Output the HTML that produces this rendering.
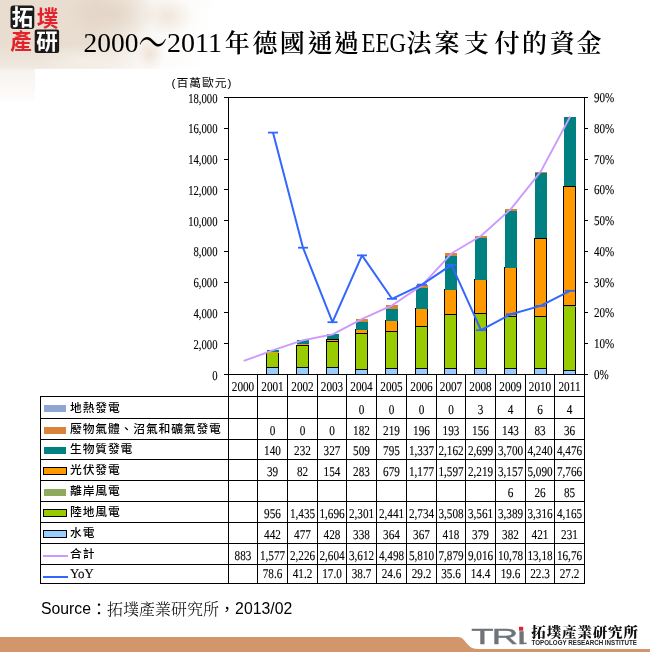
<!DOCTYPE html>
<html lang="zh-Hant"><head><meta charset="utf-8"><title>2000～2011年德國通過EEG法案支付的資金</title>
<style>
html,body{margin:0;padding:0;background:#fff}
body{width:650px;height:652px;position:relative;overflow:hidden}
#bg{position:absolute;left:0;top:0;width:330px;height:120px;
background:
radial-gradient(ellipse 14px 18px at 150px 55px, rgba(232,214,198,.75), rgba(232,214,198,0) 100%),
radial-gradient(ellipse 26px 20px at 168px 16px, rgba(236,224,212,.75), rgba(236,224,212,0) 100%),
radial-gradient(ellipse 45px 26px at 112px 14px, rgba(222,204,187,.6), rgba(222,204,187,0) 100%),
radial-gradient(ellipse 45px 16px at 85px 60px, rgba(244,238,230,.7), rgba(244,238,230,0) 100%),
linear-gradient(100deg,#e8ddcf 0,#e8ddd0 95px,rgba(236,227,216,.8) 128px,rgba(243,236,228,.35) 158px,rgba(255,255,255,0) 215px);
-webkit-mask-image:linear-gradient(to bottom,#000 0,#000 44px,rgba(0,0,0,.72) 62px,rgba(0,0,0,.68) 67px,rgba(0,0,0,.34) 71px,rgba(0,0,0,.22) 85px,rgba(0,0,0,0) 104px);
mask-image:linear-gradient(to bottom,#000 0,#000 44px,rgba(0,0,0,.72) 62px,rgba(0,0,0,.68) 67px,rgba(0,0,0,.34) 71px,rgba(0,0,0,.22) 85px,rgba(0,0,0,0) 104px);}
#white{position:absolute;left:35px;top:69px;width:610px;height:526px;background:#fff}
</style></head><body>
<div id="bg"></div>
<div id="white"></div>
<svg width="650" height="652" viewBox="0 0 650 652" style="position:absolute;left:0;top:0">
<g shape-rendering="crispEdges" stroke="#000" stroke-width="1" fill="none">
<line x1="224" y1="97.5" x2="585.0" y2="97.5"/>
<line x1="228.5" y1="97.0" x2="228.5" y2="584.0"/>
<line x1="584.5" y1="97.0" x2="584.5" y2="584.0"/>
<line x1="224" y1="374.5" x2="228.5" y2="374.5"/>
<line x1="584.5" y1="374.5" x2="588" y2="374.5"/>
<line x1="224" y1="343.5" x2="228.5" y2="343.5"/>
<line x1="584.5" y1="343.5" x2="588" y2="343.5"/>
<line x1="224" y1="312.5" x2="228.5" y2="312.5"/>
<line x1="584.5" y1="312.5" x2="588" y2="312.5"/>
<line x1="224" y1="282.5" x2="228.5" y2="282.5"/>
<line x1="584.5" y1="282.5" x2="588" y2="282.5"/>
<line x1="224" y1="251.5" x2="228.5" y2="251.5"/>
<line x1="584.5" y1="251.5" x2="588" y2="251.5"/>
<line x1="224" y1="220.5" x2="228.5" y2="220.5"/>
<line x1="584.5" y1="220.5" x2="588" y2="220.5"/>
<line x1="224" y1="189.5" x2="228.5" y2="189.5"/>
<line x1="584.5" y1="189.5" x2="588" y2="189.5"/>
<line x1="224" y1="159.5" x2="228.5" y2="159.5"/>
<line x1="584.5" y1="159.5" x2="588" y2="159.5"/>
<line x1="224" y1="128.5" x2="228.5" y2="128.5"/>
<line x1="584.5" y1="128.5" x2="588" y2="128.5"/>
<line x1="224" y1="97.5" x2="228.5" y2="97.5"/>
<line x1="584.5" y1="97.5" x2="588" y2="97.5"/>
<line x1="224" y1="374.5" x2="588" y2="374.5"/>
<line x1="40" y1="396.5" x2="585.0" y2="396.5"/>
<line x1="40" y1="418.5" x2="585.0" y2="418.5"/>
<line x1="40" y1="439.5" x2="585.0" y2="439.5"/>
<line x1="40" y1="459.5" x2="585.0" y2="459.5"/>
<line x1="40" y1="480.5" x2="585.0" y2="480.5"/>
<line x1="40" y1="501.5" x2="585.0" y2="501.5"/>
<line x1="40" y1="522.5" x2="585.0" y2="522.5"/>
<line x1="40" y1="543.5" x2="585.0" y2="543.5"/>
<line x1="40" y1="564.5" x2="585.0" y2="564.5"/>
<line x1="40" y1="583.5" x2="585.0" y2="583.5"/>
<line x1="40.5" y1="396.5" x2="40.5" y2="584.0"/>
<line x1="257.5" y1="374.5" x2="257.5" y2="584.0"/>
<line x1="287.5" y1="374.5" x2="287.5" y2="584.0"/>
<line x1="317.5" y1="374.5" x2="317.5" y2="584.0"/>
<line x1="346.5" y1="374.5" x2="346.5" y2="584.0"/>
<line x1="376.5" y1="374.5" x2="376.5" y2="584.0"/>
<line x1="406.5" y1="374.5" x2="406.5" y2="584.0"/>
<line x1="436.5" y1="374.5" x2="436.5" y2="584.0"/>
<line x1="465.5" y1="374.5" x2="465.5" y2="584.0"/>
<line x1="495.5" y1="374.5" x2="495.5" y2="584.0"/>
<line x1="525.5" y1="374.5" x2="525.5" y2="584.0"/>
<line x1="554.5" y1="374.5" x2="554.5" y2="584.0"/>
</g>
<g shape-rendering="crispEdges">
<rect x="266.5" y="367.5" width="12" height="7.0" fill="#99ccff" stroke="#000" stroke-width="1"/>
<rect x="266.5" y="352.5" width="12" height="15.0" fill="#99cc00" stroke="#000" stroke-width="1"/>
<rect x="267" y="352.39" width="12" height="0.60" fill="#ff9900"/>
<rect x="267" y="350.23" width="12" height="2.15" fill="#008080"/>
<rect x="296.5" y="367.5" width="12" height="7.0" fill="#99ccff" stroke="#000" stroke-width="1"/>
<rect x="296.5" y="345.5" width="12" height="22.0" fill="#99cc00" stroke="#000" stroke-width="1"/>
<rect x="297" y="343.81" width="12" height="1.26" fill="#ff9900"/>
<rect x="297" y="340.24" width="12" height="3.57" fill="#008080"/>
<rect x="326.5" y="367.5" width="12" height="7.0" fill="#99ccff" stroke="#000" stroke-width="1"/>
<rect x="326.5" y="341.5" width="12" height="26.0" fill="#99cc00" stroke="#000" stroke-width="1"/>
<rect x="326.5" y="339.5" width="12" height="2.0" fill="#ff9900" stroke="#000" stroke-width="1"/>
<rect x="327" y="334.41" width="12" height="5.03" fill="#008080"/>
<rect x="355.5" y="369.5" width="12" height="5.0" fill="#99ccff" stroke="#000" stroke-width="1"/>
<rect x="355.5" y="333.5" width="12" height="36.0" fill="#99cc00" stroke="#000" stroke-width="1"/>
<rect x="355.5" y="329.5" width="12" height="4.0" fill="#ff9900" stroke="#000" stroke-width="1"/>
<rect x="356" y="321.70" width="12" height="7.83" fill="#008080"/>
<rect x="356" y="318.90" width="12" height="2.80" fill="#d9823a"/>
<rect x="385.5" y="368.5" width="12" height="6.0" fill="#99ccff" stroke="#000" stroke-width="1"/>
<rect x="385.5" y="331.5" width="12" height="37.0" fill="#99cc00" stroke="#000" stroke-width="1"/>
<rect x="385.5" y="320.5" width="12" height="11.0" fill="#ff9900" stroke="#000" stroke-width="1"/>
<rect x="386" y="308.65" width="12" height="12.23" fill="#008080"/>
<rect x="386" y="305.28" width="12" height="3.37" fill="#d9823a"/>
<rect x="415.5" y="368.5" width="12" height="6.0" fill="#99ccff" stroke="#000" stroke-width="1"/>
<rect x="415.5" y="326.5" width="12" height="42.0" fill="#99cc00" stroke="#000" stroke-width="1"/>
<rect x="415.5" y="308.5" width="12" height="18.0" fill="#ff9900" stroke="#000" stroke-width="1"/>
<rect x="416" y="288.09" width="12" height="20.57" fill="#008080"/>
<rect x="416" y="285.08" width="12" height="3.02" fill="#d9823a"/>
<rect x="444.5" y="368.5" width="12" height="6.0" fill="#99ccff" stroke="#000" stroke-width="1"/>
<rect x="444.5" y="314.5" width="12" height="54.0" fill="#99cc00" stroke="#000" stroke-width="1"/>
<rect x="444.5" y="289.5" width="12" height="25.0" fill="#ff9900" stroke="#000" stroke-width="1"/>
<rect x="445" y="256.24" width="12" height="33.27" fill="#008080"/>
<rect x="445" y="253.27" width="12" height="2.97" fill="#d9823a"/>
<rect x="474.5" y="368.5" width="12" height="6.0" fill="#99ccff" stroke="#000" stroke-width="1"/>
<rect x="474.5" y="313.5" width="12" height="55.0" fill="#99cc00" stroke="#000" stroke-width="1"/>
<rect x="474.5" y="279.5" width="12" height="34.0" fill="#ff9900" stroke="#000" stroke-width="1"/>
<rect x="475" y="238.19" width="12" height="41.53" fill="#008080"/>
<rect x="475" y="235.78" width="12" height="2.40" fill="#d9823a"/>
<rect x="475" y="235.74" width="12" height="0.05" fill="#90a6d2"/>
<rect x="504.5" y="368.5" width="12" height="6.0" fill="#99ccff" stroke="#000" stroke-width="1"/>
<rect x="504.5" y="316.5" width="12" height="52.0" fill="#99cc00" stroke="#000" stroke-width="1"/>
<rect x="505" y="316.38" width="12" height="0.09" fill="#8faa5c"/>
<rect x="504.5" y="267.5" width="12" height="49.0" fill="#ff9900" stroke="#000" stroke-width="1"/>
<rect x="505" y="210.85" width="12" height="56.94" fill="#008080"/>
<rect x="505" y="208.65" width="12" height="2.20" fill="#d9823a"/>
<rect x="505" y="208.59" width="12" height="0.06" fill="#90a6d2"/>
<rect x="534.5" y="368.5" width="12" height="6.0" fill="#99ccff" stroke="#000" stroke-width="1"/>
<rect x="534.5" y="316.5" width="12" height="52.0" fill="#99cc00" stroke="#000" stroke-width="1"/>
<rect x="535" y="316.59" width="12" height="0.40" fill="#8faa5c"/>
<rect x="534.5" y="238.5" width="12" height="78.0" fill="#ff9900" stroke="#000" stroke-width="1"/>
<rect x="535" y="173.01" width="12" height="65.25" fill="#008080"/>
<rect x="535" y="171.74" width="12" height="1.28" fill="#d9823a"/>
<rect x="535" y="171.64" width="12" height="0.09" fill="#90a6d2"/>
<rect x="563.5" y="370.5" width="12" height="4.0" fill="#99ccff" stroke="#000" stroke-width="1"/>
<rect x="563.5" y="306.5" width="12" height="64.0" fill="#99cc00" stroke="#000" stroke-width="1"/>
<rect x="564" y="305.54" width="12" height="1.31" fill="#8faa5c"/>
<rect x="563.5" y="186.5" width="12" height="119.0" fill="#ff9900" stroke="#000" stroke-width="1"/>
<rect x="564" y="117.15" width="12" height="68.88" fill="#008080"/>
<rect x="564" y="116.60" width="12" height="0.55" fill="#d9823a"/>
<rect x="564" y="116.54" width="12" height="0.06" fill="#90a6d2"/>
</g>
<polyline points="243.7,360.9 273.2,350.2 303.2,340.2 332.7,334.4 362.2,318.9 392.2,305.3 422.2,285.1 451.7,253.3 481.2,235.8 511.2,208.6 540.7,171.6 570.2,116.5" fill="none" stroke="#cc99ff" stroke-width="1.9" stroke-linejoin="round"/>
<polyline points="273.0,132.6 303.0,247.7 332.5,322.2 362.0,255.4 392.0,298.8 422.0,284.6 451.5,264.9 481.0,330.2 511.0,314.2 540.5,305.9 570.0,290.8" fill="none" stroke="#3366ff" stroke-width="2.0" stroke-linejoin="round"/>
<line x1="268.0" y1="132.6" x2="278.0" y2="132.6" stroke="#3366ff" stroke-width="1.8"/>
<line x1="298.0" y1="247.7" x2="308.0" y2="247.7" stroke="#3366ff" stroke-width="1.8"/>
<line x1="327.5" y1="322.2" x2="337.5" y2="322.2" stroke="#3366ff" stroke-width="1.8"/>
<line x1="357.0" y1="255.4" x2="367.0" y2="255.4" stroke="#3366ff" stroke-width="1.8"/>
<line x1="387.0" y1="298.8" x2="397.0" y2="298.8" stroke="#3366ff" stroke-width="1.8"/>
<line x1="417.0" y1="284.6" x2="427.0" y2="284.6" stroke="#3366ff" stroke-width="1.8"/>
<line x1="446.5" y1="264.9" x2="456.5" y2="264.9" stroke="#3366ff" stroke-width="1.8"/>
<line x1="476.0" y1="330.2" x2="486.0" y2="330.2" stroke="#3366ff" stroke-width="1.8"/>
<line x1="506.0" y1="314.2" x2="516.0" y2="314.2" stroke="#3366ff" stroke-width="1.8"/>
<line x1="535.5" y1="305.9" x2="545.5" y2="305.9" stroke="#3366ff" stroke-width="1.8"/>
<line x1="565.0" y1="290.8" x2="575.0" y2="290.8" stroke="#3366ff" stroke-width="1.8"/>
<g font-family="'Liberation Serif',serif" fill="#000" stroke="#000" stroke-width="0.12" text-rendering="geometricPrecision">
<text transform="translate(217.5,379.5) scale(0.79,1)" text-anchor="end" font-size="13.5">0</text>
<text transform="translate(594.0,378.9) scale(0.82,1)" text-anchor="start" font-size="13.5">0%</text>
<text transform="translate(217.5,348.7) scale(0.79,1)" text-anchor="end" font-size="13.5">2,000</text>
<text transform="translate(594.0,348.1) scale(0.82,1)" text-anchor="start" font-size="13.5">10%</text>
<text transform="translate(217.5,317.9) scale(0.79,1)" text-anchor="end" font-size="13.5">4,000</text>
<text transform="translate(594.0,317.3) scale(0.82,1)" text-anchor="start" font-size="13.5">20%</text>
<text transform="translate(217.5,287.2) scale(0.79,1)" text-anchor="end" font-size="13.5">6,000</text>
<text transform="translate(594.0,286.6) scale(0.82,1)" text-anchor="start" font-size="13.5">30%</text>
<text transform="translate(217.5,256.4) scale(0.79,1)" text-anchor="end" font-size="13.5">8,000</text>
<text transform="translate(594.0,255.8) scale(0.82,1)" text-anchor="start" font-size="13.5">40%</text>
<text transform="translate(217.5,225.6) scale(0.79,1)" text-anchor="end" font-size="13.5">10,000</text>
<text transform="translate(594.0,225.0) scale(0.82,1)" text-anchor="start" font-size="13.5">50%</text>
<text transform="translate(217.5,194.8) scale(0.79,1)" text-anchor="end" font-size="13.5">12,000</text>
<text transform="translate(594.0,194.2) scale(0.82,1)" text-anchor="start" font-size="13.5">60%</text>
<text transform="translate(217.5,164.1) scale(0.79,1)" text-anchor="end" font-size="13.5">14,000</text>
<text transform="translate(594.0,163.5) scale(0.82,1)" text-anchor="start" font-size="13.5">70%</text>
<text transform="translate(217.5,133.3) scale(0.79,1)" text-anchor="end" font-size="13.5">16,000</text>
<text transform="translate(594.0,132.7) scale(0.82,1)" text-anchor="start" font-size="13.5">80%</text>
<text transform="translate(217.5,102.5) scale(0.79,1)" text-anchor="end" font-size="13.5">18,000</text>
<text transform="translate(594.0,101.9) scale(0.82,1)" text-anchor="start" font-size="13.5">90%</text>
<text transform="translate(243.0,390.5) scale(0.83,1)" text-anchor="middle" font-size="13.5">2000</text>
<text transform="translate(272.5,390.5) scale(0.83,1)" text-anchor="middle" font-size="13.5">2001</text>
<text transform="translate(302.5,390.5) scale(0.83,1)" text-anchor="middle" font-size="13.5">2002</text>
<text transform="translate(332.0,390.5) scale(0.83,1)" text-anchor="middle" font-size="13.5">2003</text>
<text transform="translate(361.5,390.5) scale(0.83,1)" text-anchor="middle" font-size="13.5">2004</text>
<text transform="translate(391.5,390.5) scale(0.83,1)" text-anchor="middle" font-size="13.5">2005</text>
<text transform="translate(421.5,390.5) scale(0.83,1)" text-anchor="middle" font-size="13.5">2006</text>
<text transform="translate(451.0,390.5) scale(0.83,1)" text-anchor="middle" font-size="13.5">2007</text>
<text transform="translate(480.5,390.5) scale(0.83,1)" text-anchor="middle" font-size="13.5">2008</text>
<text transform="translate(510.5,390.5) scale(0.83,1)" text-anchor="middle" font-size="13.5">2009</text>
<text transform="translate(540.0,390.5) scale(0.83,1)" text-anchor="middle" font-size="13.5">2010</text>
<text transform="translate(569.5,390.5) scale(0.83,1)" text-anchor="middle" font-size="13.5">2011</text>
<text transform="translate(361.5,413.5) scale(0.83,1)" text-anchor="middle" font-size="13.5">0</text>
<text transform="translate(391.5,413.5) scale(0.83,1)" text-anchor="middle" font-size="13.5">0</text>
<text transform="translate(421.5,413.5) scale(0.83,1)" text-anchor="middle" font-size="13.5">0</text>
<text transform="translate(451.0,413.5) scale(0.83,1)" text-anchor="middle" font-size="13.5">0</text>
<text transform="translate(480.5,413.5) scale(0.83,1)" text-anchor="middle" font-size="13.5">3</text>
<text transform="translate(510.5,413.5) scale(0.83,1)" text-anchor="middle" font-size="13.5">4</text>
<text transform="translate(540.0,413.5) scale(0.83,1)" text-anchor="middle" font-size="13.5">6</text>
<text transform="translate(569.5,413.5) scale(0.83,1)" text-anchor="middle" font-size="13.5">4</text>
<text transform="translate(272.5,434.5) scale(0.83,1)" text-anchor="middle" font-size="13.5">0</text>
<text transform="translate(302.5,434.5) scale(0.83,1)" text-anchor="middle" font-size="13.5">0</text>
<text transform="translate(332.0,434.5) scale(0.83,1)" text-anchor="middle" font-size="13.5">0</text>
<text transform="translate(361.5,434.5) scale(0.83,1)" text-anchor="middle" font-size="13.5">182</text>
<text transform="translate(391.5,434.5) scale(0.83,1)" text-anchor="middle" font-size="13.5">219</text>
<text transform="translate(421.5,434.5) scale(0.83,1)" text-anchor="middle" font-size="13.5">196</text>
<text transform="translate(451.0,434.5) scale(0.83,1)" text-anchor="middle" font-size="13.5">193</text>
<text transform="translate(480.5,434.5) scale(0.83,1)" text-anchor="middle" font-size="13.5">156</text>
<text transform="translate(510.5,434.5) scale(0.83,1)" text-anchor="middle" font-size="13.5">143</text>
<text transform="translate(540.0,434.5) scale(0.83,1)" text-anchor="middle" font-size="13.5">83</text>
<text transform="translate(569.5,434.5) scale(0.83,1)" text-anchor="middle" font-size="13.5">36</text>
<text transform="translate(272.5,454.5) scale(0.83,1)" text-anchor="middle" font-size="13.5">140</text>
<text transform="translate(302.5,454.5) scale(0.83,1)" text-anchor="middle" font-size="13.5">232</text>
<text transform="translate(332.0,454.5) scale(0.83,1)" text-anchor="middle" font-size="13.5">327</text>
<text transform="translate(361.5,454.5) scale(0.83,1)" text-anchor="middle" font-size="13.5">509</text>
<text transform="translate(391.5,454.5) scale(0.83,1)" text-anchor="middle" font-size="13.5">795</text>
<text transform="translate(421.5,454.5) scale(0.83,1)" text-anchor="middle" font-size="13.5">1,337</text>
<text transform="translate(451.0,454.5) scale(0.83,1)" text-anchor="middle" font-size="13.5">2,162</text>
<text transform="translate(480.5,454.5) scale(0.83,1)" text-anchor="middle" font-size="13.5">2,699</text>
<text transform="translate(510.5,454.5) scale(0.83,1)" text-anchor="middle" font-size="13.5">3,700</text>
<text transform="translate(540.0,454.5) scale(0.83,1)" text-anchor="middle" font-size="13.5">4,240</text>
<text transform="translate(569.5,454.5) scale(0.83,1)" text-anchor="middle" font-size="13.5">4,476</text>
<text transform="translate(272.5,475.5) scale(0.83,1)" text-anchor="middle" font-size="13.5">39</text>
<text transform="translate(302.5,475.5) scale(0.83,1)" text-anchor="middle" font-size="13.5">82</text>
<text transform="translate(332.0,475.5) scale(0.83,1)" text-anchor="middle" font-size="13.5">154</text>
<text transform="translate(361.5,475.5) scale(0.83,1)" text-anchor="middle" font-size="13.5">283</text>
<text transform="translate(391.5,475.5) scale(0.83,1)" text-anchor="middle" font-size="13.5">679</text>
<text transform="translate(421.5,475.5) scale(0.83,1)" text-anchor="middle" font-size="13.5">1,177</text>
<text transform="translate(451.0,475.5) scale(0.83,1)" text-anchor="middle" font-size="13.5">1,597</text>
<text transform="translate(480.5,475.5) scale(0.83,1)" text-anchor="middle" font-size="13.5">2,219</text>
<text transform="translate(510.5,475.5) scale(0.83,1)" text-anchor="middle" font-size="13.5">3,157</text>
<text transform="translate(540.0,475.5) scale(0.83,1)" text-anchor="middle" font-size="13.5">5,090</text>
<text transform="translate(569.5,475.5) scale(0.83,1)" text-anchor="middle" font-size="13.5">7,766</text>
<text transform="translate(510.5,496.5) scale(0.83,1)" text-anchor="middle" font-size="13.5">6</text>
<text transform="translate(540.0,496.5) scale(0.83,1)" text-anchor="middle" font-size="13.5">26</text>
<text transform="translate(569.5,496.5) scale(0.83,1)" text-anchor="middle" font-size="13.5">85</text>
<text transform="translate(272.5,517.5) scale(0.83,1)" text-anchor="middle" font-size="13.5">956</text>
<text transform="translate(302.5,517.5) scale(0.83,1)" text-anchor="middle" font-size="13.5">1,435</text>
<text transform="translate(332.0,517.5) scale(0.83,1)" text-anchor="middle" font-size="13.5">1,696</text>
<text transform="translate(361.5,517.5) scale(0.83,1)" text-anchor="middle" font-size="13.5">2,301</text>
<text transform="translate(391.5,517.5) scale(0.83,1)" text-anchor="middle" font-size="13.5">2,441</text>
<text transform="translate(421.5,517.5) scale(0.83,1)" text-anchor="middle" font-size="13.5">2,734</text>
<text transform="translate(451.0,517.5) scale(0.83,1)" text-anchor="middle" font-size="13.5">3,508</text>
<text transform="translate(480.5,517.5) scale(0.83,1)" text-anchor="middle" font-size="13.5">3,561</text>
<text transform="translate(510.5,517.5) scale(0.83,1)" text-anchor="middle" font-size="13.5">3,389</text>
<text transform="translate(540.0,517.5) scale(0.83,1)" text-anchor="middle" font-size="13.5">3,316</text>
<text transform="translate(569.5,517.5) scale(0.83,1)" text-anchor="middle" font-size="13.5">4,165</text>
<text transform="translate(272.5,538.5) scale(0.83,1)" text-anchor="middle" font-size="13.5">442</text>
<text transform="translate(302.5,538.5) scale(0.83,1)" text-anchor="middle" font-size="13.5">477</text>
<text transform="translate(332.0,538.5) scale(0.83,1)" text-anchor="middle" font-size="13.5">428</text>
<text transform="translate(361.5,538.5) scale(0.83,1)" text-anchor="middle" font-size="13.5">338</text>
<text transform="translate(391.5,538.5) scale(0.83,1)" text-anchor="middle" font-size="13.5">364</text>
<text transform="translate(421.5,538.5) scale(0.83,1)" text-anchor="middle" font-size="13.5">367</text>
<text transform="translate(451.0,538.5) scale(0.83,1)" text-anchor="middle" font-size="13.5">418</text>
<text transform="translate(480.5,538.5) scale(0.83,1)" text-anchor="middle" font-size="13.5">379</text>
<text transform="translate(510.5,538.5) scale(0.83,1)" text-anchor="middle" font-size="13.5">382</text>
<text transform="translate(540.0,538.5) scale(0.83,1)" text-anchor="middle" font-size="13.5">421</text>
<text transform="translate(569.5,538.5) scale(0.83,1)" text-anchor="middle" font-size="13.5">231</text>
<text transform="translate(243.0,559.5) scale(0.83,1)" text-anchor="middle" font-size="13.5">883</text>
<text transform="translate(272.5,559.5) scale(0.83,1)" text-anchor="middle" font-size="13.5">1,577</text>
<text transform="translate(272.5,577.5) scale(0.83,1)" text-anchor="middle" font-size="13.5">78.6</text>
<text transform="translate(302.5,559.5) scale(0.83,1)" text-anchor="middle" font-size="13.5">2,226</text>
<text transform="translate(302.5,577.5) scale(0.83,1)" text-anchor="middle" font-size="13.5">41.2</text>
<text transform="translate(332.0,559.5) scale(0.83,1)" text-anchor="middle" font-size="13.5">2,604</text>
<text transform="translate(332.0,577.5) scale(0.83,1)" text-anchor="middle" font-size="13.5">17.0</text>
<text transform="translate(361.5,559.5) scale(0.83,1)" text-anchor="middle" font-size="13.5">3,612</text>
<text transform="translate(361.5,577.5) scale(0.83,1)" text-anchor="middle" font-size="13.5">38.7</text>
<text transform="translate(391.5,559.5) scale(0.83,1)" text-anchor="middle" font-size="13.5">4,498</text>
<text transform="translate(391.5,577.5) scale(0.83,1)" text-anchor="middle" font-size="13.5">24.6</text>
<text transform="translate(421.5,559.5) scale(0.83,1)" text-anchor="middle" font-size="13.5">5,810</text>
<text transform="translate(421.5,577.5) scale(0.83,1)" text-anchor="middle" font-size="13.5">29.2</text>
<text transform="translate(451.0,559.5) scale(0.83,1)" text-anchor="middle" font-size="13.5">7,879</text>
<text transform="translate(451.0,577.5) scale(0.83,1)" text-anchor="middle" font-size="13.5">35.6</text>
<text transform="translate(480.5,559.5) scale(0.83,1)" text-anchor="middle" font-size="13.5">9,016</text>
<text transform="translate(480.5,577.5) scale(0.83,1)" text-anchor="middle" font-size="13.5">14.4</text>
<text transform="translate(510.5,559.5) scale(0.83,1)" text-anchor="middle" font-size="13.5">10,78</text>
<text transform="translate(510.5,577.5) scale(0.83,1)" text-anchor="middle" font-size="13.5">19.6</text>
<text transform="translate(540.0,559.5) scale(0.83,1)" text-anchor="middle" font-size="13.5">13,18</text>
<text transform="translate(540.0,577.5) scale(0.83,1)" text-anchor="middle" font-size="13.5">22.3</text>
<text transform="translate(569.5,559.5) scale(0.83,1)" text-anchor="middle" font-size="13.5">16,76</text>
<text transform="translate(569.5,577.5) scale(0.83,1)" text-anchor="middle" font-size="13.5">27.2</text>
<text transform="translate(70.0,578.0) scale(0.95,1)" text-anchor="start" font-size="13.5">YoY</text>
</g>
<g shape-rendering="crispEdges">
<rect x="44" y="405" width="22" height="7" fill="#90a6d2"/>
<rect x="44" y="427" width="22" height="7" fill="#d9823a"/>
<rect x="44" y="447" width="22" height="7" fill="#008080"/>
<rect x="43.5" y="467.5" width="23" height="7" fill="#ff9900" stroke="#000" stroke-width="1"/>
<rect x="44" y="489" width="22" height="7" fill="#8faa5c"/>
<rect x="43.5" y="509.5" width="23" height="7" fill="#99cc00" stroke="#000" stroke-width="1"/>
<rect x="43.5" y="530.5" width="23" height="7" fill="#99ccff" stroke="#000" stroke-width="1"/>
<rect x="43" y="555" width="25" height="2" fill="#cc99ff"/>
<rect x="43" y="576" width="25" height="2" fill="#3366ff"/>
</g>
<g font-family="'Liberation Sans','Noto Sans CJK TC',sans-serif" font-size="11.8" font-weight="500" letter-spacing="0.85" fill="#000">
<text x="70" y="411.9">地熱發電</text>
<text x="70" y="432.9">廢物氣體、沼氣和礦氣發電</text>
<text x="70" y="452.9">生物質發電</text>
<text x="70" y="473.9">光伏發電</text>
<text x="70" y="494.9">離岸風電</text>
<text x="70" y="515.9">陸地風電</text>
<text x="70" y="536.9">水電</text>
<text x="70" y="557.9">合計</text>
</g>
<text x="171.5" y="86.8" font-family="'Liberation Sans','Noto Sans CJK TC',sans-serif" font-size="11.8" textLength="60" fill="#000">(百萬歐元)</text>
<g font-family="'Liberation Serif','Noto Serif CJK SC',serif" font-size="26.7" fill="#000">
<text x="83.5" y="51.6" textLength="55" lengthAdjust="spacingAndGlyphs">2000</text>
<text transform="translate(152.7,41.8) scale(1.16,1.9)" text-anchor="middle" y="9.5" font-size="25">～</text>
<text x="167" y="51.6" textLength="55" lengthAdjust="spacingAndGlyphs">2011</text>
<text x="361.5" y="51.6" textLength="44.5" lengthAdjust="spacingAndGlyphs">EEG</text>
</g>
<g font-family="'Noto Serif CJK SC',serif" font-size="25" font-weight="600" fill="#000" text-anchor="middle">
<text x="237.3 265 292.2 320 346.4" y="52">年德國通過</text>
<text x="418.9 447 476.2 506.9 534.6 562.2 588.9" y="52">法案支付的資金</text>
</g>
<text x="41" y="614" font-family="'Liberation Sans','Noto Serif CJK SC',sans-serif" font-size="15.8" fill="#000">Source<tspan font-family="'Noto Serif CJK SC',serif" font-weight="300" font-size="16" dy="0.8"><tspan font-family="'Noto Sans CJK TC',sans-serif" font-weight="400">：</tspan>拓墣產業研究所<tspan font-family="'Noto Sans CJK TC',sans-serif" font-weight="400">，</tspan></tspan><tspan dy="-0.8">2013/02</tspan></text>
<path d="M0 637 H458 C466 637 466 649 478 649 H650 V652 H0 Z" fill="#d3956b"/>
<g font-family="'Liberation Sans',sans-serif">
<text transform="translate(471.3,644.2) scale(1.62,1)" font-size="22.6" fill="#6e747a" stroke="#6e747a" stroke-width="0.4" letter-spacing="-1.2">TR<tspan dx="0.6" font-size="24">i</tspan></text>
<rect x="518" y="625" width="7" height="6.2" fill="#fff"/><rect x="519" y="626.8" width="4.2" height="3.9" fill="#e0222a"/>
<rect x="522" y="642.6" width="4.6" height="1.5" fill="#6e747a"/>
<text transform="translate(531.3,636.9) scale(1.1,1)" font-family="'Noto Serif CJK SC',serif" font-weight="900" font-size="13.2" fill="#111" textLength="97" lengthAdjust="spacing">拓墣產業研究所</text>
<text x="531.5" y="645.2" font-size="7.2" font-weight="700" fill="#222" textLength="105.5" lengthAdjust="spacingAndGlyphs">TOPOLOGY RESEARCH INSTITUTE</text>
</g>
<g font-family="'Noto Sans CJK TC',sans-serif" font-weight="700" font-size="21.5" text-anchor="middle">
<rect x="10.5" y="5.5" width="23.8" height="23.4" rx="3" fill="#1c1a1a"/>
<rect x="34.7" y="29.5" width="24.4" height="23.5" rx="2" fill="#1c1a1a"/>
<text x="22.4" y="25.2" fill="#fff">拓</text>
<text x="47.6" y="25.6" fill="#e3232c">墣</text>
<text x="21" y="49.4" fill="#e3232c">產</text>
<text x="46.9" y="49.2" fill="#fff">研</text>
</g>
</svg>
</body></html>
